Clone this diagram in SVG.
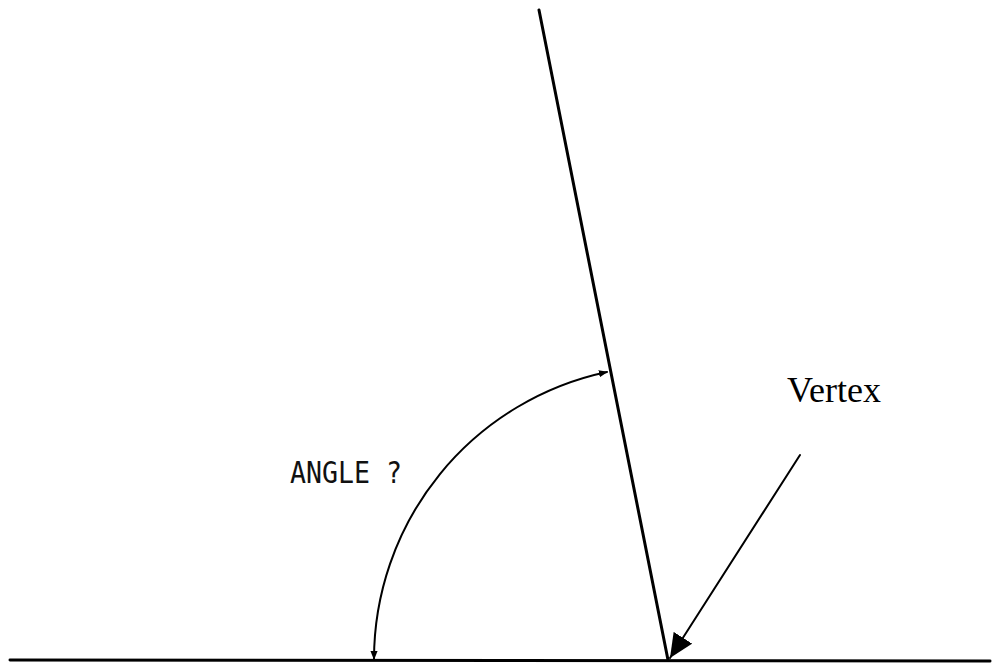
<svg xmlns="http://www.w3.org/2000/svg" width="995" height="666" viewBox="0 0 995 666">
<defs>
<style>
.ln{stroke:#000;fill:none;stroke-linecap:round}
</style>
<marker id="sm" viewBox="0 0 10 10" refX="9" refY="5" markerWidth="9" markerHeight="9" markerUnits="userSpaceOnUse" orient="auto-start-reverse"><path d="M0,1 L10,5 L0,9 Z" fill="#000"/></marker>
<marker id="lg" viewBox="0 0 10 10" refX="10" refY="5" markerWidth="24" markerHeight="22" markerUnits="userSpaceOnUse" orient="auto" preserveAspectRatio="none"><path d="M0,0 L10,5 L0,10 Z" fill="#000"/></marker>
</defs>
<rect width="995" height="666" fill="#fff"/>
<g id="connectors">
<line class="ln" x1="10" y1="660" x2="990" y2="661" stroke-width="3"/>
<line class="ln" x1="539" y1="10" x2="668" y2="660" stroke-width="3"/>
<path class="ln" d="M374,659 A294,294 0 0 1 607,372" stroke-width="2" marker-start="url(#sm)" marker-end="url(#sm)"/>
<line class="ln" x1="800" y1="455" x2="670" y2="658" stroke-width="2" marker-end="url(#lg)"/>
</g>
<g id="angle-label"><text x="290" y="483" font-family="DejaVu Sans Mono, monospace" font-size="31" textLength="112" lengthAdjust="spacingAndGlyphs" fill="#111">ANGLE ?</text></g>
<g id="vertex-label"><text x="787" y="402" font-family="Liberation Serif, serif" font-size="36" fill="#000">Vertex</text></g>
</svg>
